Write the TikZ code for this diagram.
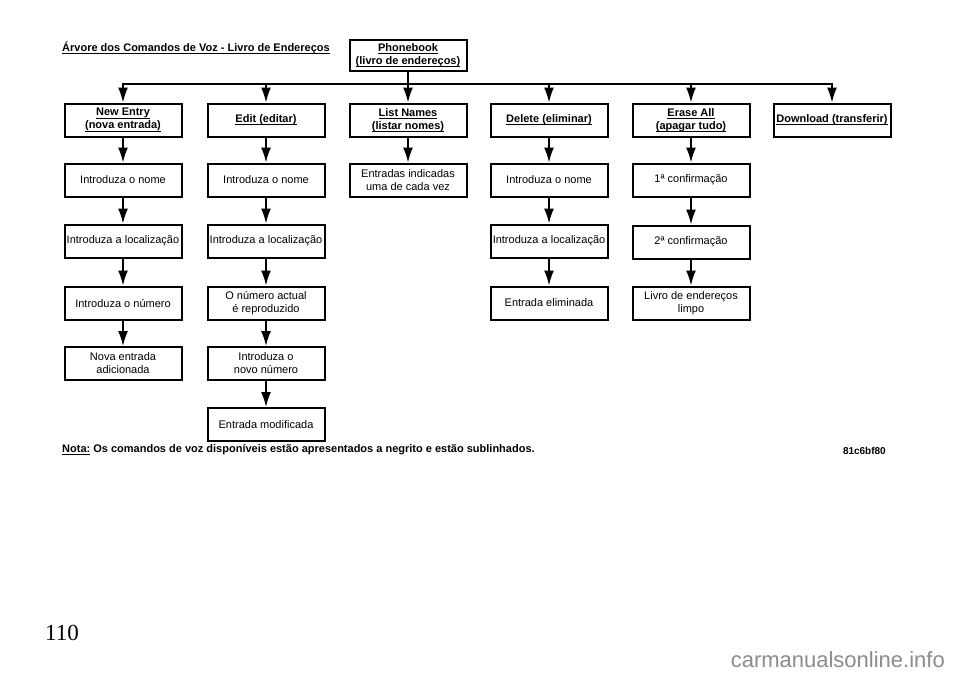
\documentclass[tikz,border=0pt]{standalone}
\usepackage{fontspec}
\setmainfont{Liberation Sans}
\newfontfamily\pgserif{Liberation Serif}
\usetikzlibrary{arrows.meta}
\newcommand{\myul}[1]{\begingroup\setbox0\hbox{#1}\rlap{\rule[-2.6pt]{\wd0}{0.9pt}}\box0\endgroup}
\begin{document}
\begin{tikzpicture}[x=1pt,y=-1pt,
  box/.style={draw, line width=2pt, minimum width=117pt, minimum height=33pt, inner sep=0pt, align=center, font=\fontsize{11}{13}\selectfont},
  cmd/.style={box, font=\fontsize{11}{13}\selectfont\bfseries},
  arr/.style={line width=1.7pt, -{Latex[length=15pt,width=10pt]}},
  bus/.style={line width=1.7pt, line cap=rect},
]
\useasboundingbox (0,0) rectangle (960,678);
\fill[white] (0,0) rectangle (960,678);

% title
\node[anchor=west, inner sep=0pt, font=\fontsize{11}{13}\selectfont\bfseries] (title) at (62,48) {\myul{Árvore dos Comandos de Voz - Livro de Endereços}};

% root
\node[cmd, minimum height=31pt] (pb) at (408,55.5) {\myul{Phonebook}\\\myul{(livro de endereços)}};

% commands
\node[cmd] (ne) at (123,120) {\myul{New Entry}\\\myul{(nova entrada)}};
\node[cmd] (ed) at (266,120) {\myul{Edit (editar)}};
\node[cmd] (ln) at (408,120) {\myul{List Names}\\\myul{(listar nomes)}};
\node[cmd] (de) at (549,120) {\myul{Delete (eliminar)}};
\node[cmd] (ea) at (691,120) {\myul{Erase All}\\\myul{(apagar tudo)}};
\node[cmd] (dl) at (832,120) {\myul{Download (transferir)}};

% bus
\coordinate (busL) at (123,84);
\coordinate (busR) at (832,84);
\draw[bus] (busL) -- (busR);
\draw[arr] (pb) -- (ln);
\foreach \n in {ne,ed,de,ea,dl}{
  \draw[arr] (busL -| \n.north) -- (\n.north);
}

% column 1
\node[box] (a1) at (123,180) {Introduza o nome};
\node[box] (a2) at (123,241) {Introduza a localização};
\node[box] (a3) at (123,303) {Introduza o número};
\node[box] (a4) at (123,363.5) {Nova entrada\\adicionada};
% column 2
\node[box] (b1) at (266,180) {Introduza o nome};
\node[box] (b2) at (266,241) {Introduza a localização};
\node[box] (b3) at (266,303) {O número actual\\é reproduzido};
\node[box] (b4) at (266,363.5) {Introduza o\\novo número};
\node[box] (b5) at (266,424.5) {Entrada modificada};
% column 3
\node[box] (c1) at (408,180) {Entradas indicadas\\uma de cada vez};
% column 4
\node[box] (d1) at (549,180) {Introduza o nome};
\node[box] (d2) at (549,241) {Introduza a localização};
\node[box] (d3) at (549,303) {Entrada eliminada};
% column 5
\node[box] (e1) at (691,180) {1ª confirmação};
\node[box] (e2) at (691,242) {2ª confirmação};
\node[box] (e3) at (691,303) {Livro de endereços\\limpo};

\draw[arr] (ne) -- (a1);
\draw[arr] (a1) -- (a2);
\draw[arr] (a2) -- (a3);
\draw[arr] (a3) -- (a4);
\draw[arr] (ed) -- (b1);
\draw[arr] (b1) -- (b2);
\draw[arr] (b2) -- (b3);
\draw[arr] (b3) -- (b4);
\draw[arr] (b4) -- (b5);
\draw[arr] (ln) -- (c1);
\draw[arr] (de) -- (d1);
\draw[arr] (d1) -- (d2);
\draw[arr] (d2) -- (d3);
\draw[arr] (ea) -- (e1);
\draw[arr] (e1) -- (e2);
\draw[arr] (e2) -- (e3);

% note
\node[anchor=west, inner sep=0pt, font=\fontsize{11}{13}\selectfont\bfseries] (note) at (62,450)
  {\myul{Nota:} Os comandos de voz disponíveis estão apresentados a negrito e estão sublinhados.};
\node[anchor=east, inner sep=0pt, font=\fontsize{10}{12}\selectfont\bfseries] (code) at (886,451) {81c6bf80};

% page number and watermark
\node[inner sep=0pt, font=\pgserif\fontsize{23}{25}\selectfont] (page) at (62,633) {110};
\node[anchor=east, inner sep=0pt, text=black!45, font=\fontsize{22}{24}\selectfont] (wm) at (945,660) {carmanualsonline.info};
\end{tikzpicture}
\end{document}
